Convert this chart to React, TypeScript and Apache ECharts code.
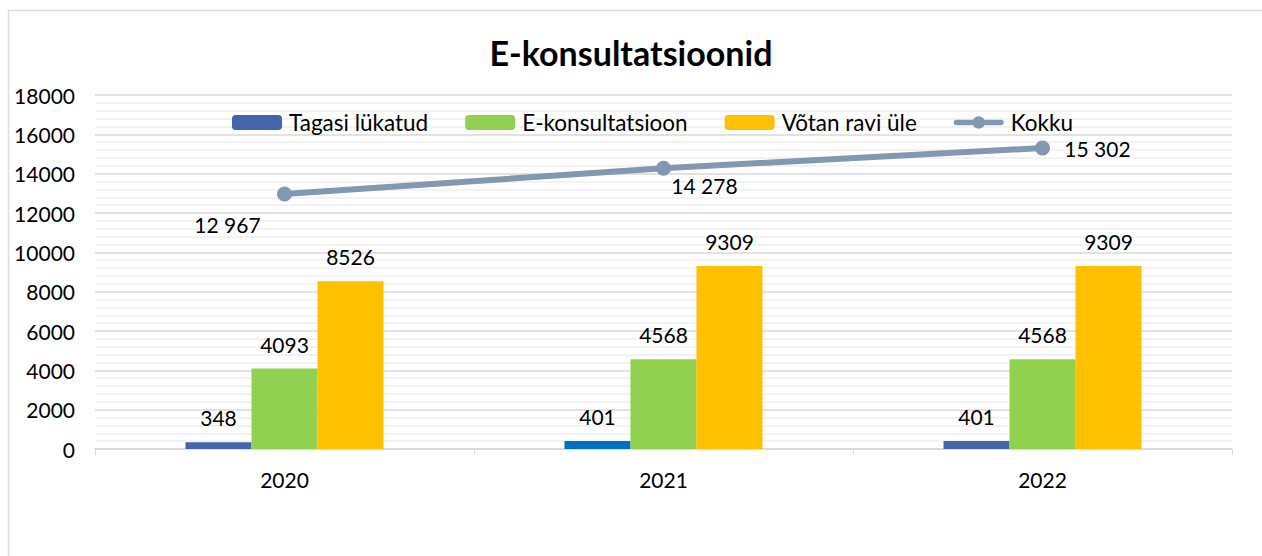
import React, { useEffect, useRef } from "react";
import * as echarts from "echarts";

const categories = ["2020", "2021", "2022"];
const tagasiLykatud = [348, 401, 401];
const eKonsultatsioon = [4093, 4568, 4568];
const votanRaviUle = [8526, 9309, 9309];
const kokku = [12967, 14278, 15302];
const kokkuLabels = ["12 967", "14 278", "15 302"];
const seriesNames = ["Tagasi lükatud", "E-konsultatsioon", "Võtan ravi üle", "Kokku"];

const FONT = "Lato";
const LINE_ICON =
  "path://M3,5 L53,5 A3,3 0 0,1 53,11 L3,11 A3,3 0 0,1 3,5 Z M21,8 A7,7 0 1,1 35,8 A7,7 0 1,1 21,8 Z";

export default function App() {
  const ref = useRef<HTMLDivElement>(null);
  useEffect(() => {
    if (!ref.current) return;
    const chart = echarts.init(ref.current, null, { renderer: "svg" });
    const barLabel = {
      show: true,
      position: "top",
      distance: 14,
      fontSize: 21,
      fontFamily: FONT,
      color: "#000",
    };
    const kokkuOffsets = [
      [-57, 31],
      [41, 17],
      [55, 0],
    ];
    chart.setOption({
      animation: false,
      textStyle: { fontFamily: FONT },
      title: {
        text: "E-konsultatsioonid",
        left: "center",
        top: 30,
        textStyle: { fontSize: 34, fontWeight: "bold", fontFamily: FONT, color: "#000" },
      },
      legend: {
        top: 106,
        left: 227,
        itemWidth: 50,
        itemHeight: 15,
        itemGap: 37,
        textStyle: { fontSize: 22.5, fontFamily: FONT, color: "#000", padding: [0, 0, 0, 2] },
        data: [
          seriesNames[0],
          seriesNames[1],
          seriesNames[2],
          {
            name: seriesNames[3],
            icon: LINE_ICON,
            itemStyle: { color: "#8497B0" },
          },
        ],
      },
      grid: { left: 95, right: 30, top: 95, bottom: 107 },
      xAxis: {
        type: "category",
        data: categories,
        axisLine: { lineStyle: { color: "#D9D9D9", width: 1.5 } },
        axisTick: { show: true, length: 6, lineStyle: { color: "#D9D9D9" } },
        axisLabel: { fontSize: 21, fontFamily: FONT, color: "#000", margin: 20 },
      },
      yAxis: {
        type: "value",
        min: 0,
        max: 18000,
        interval: 2000,
        axisLine: { show: false },
        axisTick: { show: false },
        axisLabel: {
          fontSize: 21,
          fontFamily: FONT,
          color: "#000",
          margin: 20,
          formatter: (v: number) => String(v),
        },
        splitLine: { lineStyle: { color: "#D9D9D9", width: 1.5 } },
        minorTick: { show: false, splitNumber: 5 },
        minorSplitLine: { show: true, lineStyle: { color: "#EFEFEF", width: 1.5 } },
      },
      series: [
        {
          name: seriesNames[0],
          type: "bar",
          barWidth: 66,
          barGap: "0%",
          itemStyle: { color: "#4664AC" },
          data: tagasiLykatud.map((v, i) =>
            i === 1 ? { value: v, itemStyle: { color: "#0070C0" } } : v
          ),
          label: barLabel,
        },
        {
          name: seriesNames[1],
          type: "bar",
          barWidth: 66,
          barGap: "0%",
          itemStyle: { color: "#92D050" },
          data: eKonsultatsioon,
          label: barLabel,
        },
        {
          name: seriesNames[2],
          type: "bar",
          barWidth: 66,
          barGap: "0%",
          itemStyle: { color: "#FFC000" },
          data: votanRaviUle,
          label: barLabel,
        },
        {
          name: seriesNames[3],
          type: "line",
          symbol: "circle",
          symbolSize: 15,
          itemStyle: { color: "#8497B0" },
          lineStyle: { color: "#8497B0", width: 6 },
          data: kokku.map((v, i) => ({
            value: v,
            label: {
              show: true,
              position: "inside",
              offset: kokkuOffsets[i],
              formatter: kokkuLabels[i],
              fontSize: 21,
              fontFamily: FONT,
              color: "#000",
            },
          })),
        },
      ],
      graphic: [
        {
          type: "line",
          shape: { x1: 8, y1: 10.5, x2: 1262, y2: 10.5 },
          style: { stroke: "#DDDDDD", lineWidth: 1.5 },
        },
        {
          type: "line",
          shape: { x1: 8.5, y1: 10, x2: 8.5, y2: 556 },
          style: { stroke: "#DDDDDD", lineWidth: 1.5 },
        },
      ],
    });
    return () => chart.dispose();
  }, []);
  return (
    <div
      ref={ref}
      style={{ position: "fixed", left: 0, top: 0, width: 1262, height: 556, background: "#fff" }}
    />
  );
}
